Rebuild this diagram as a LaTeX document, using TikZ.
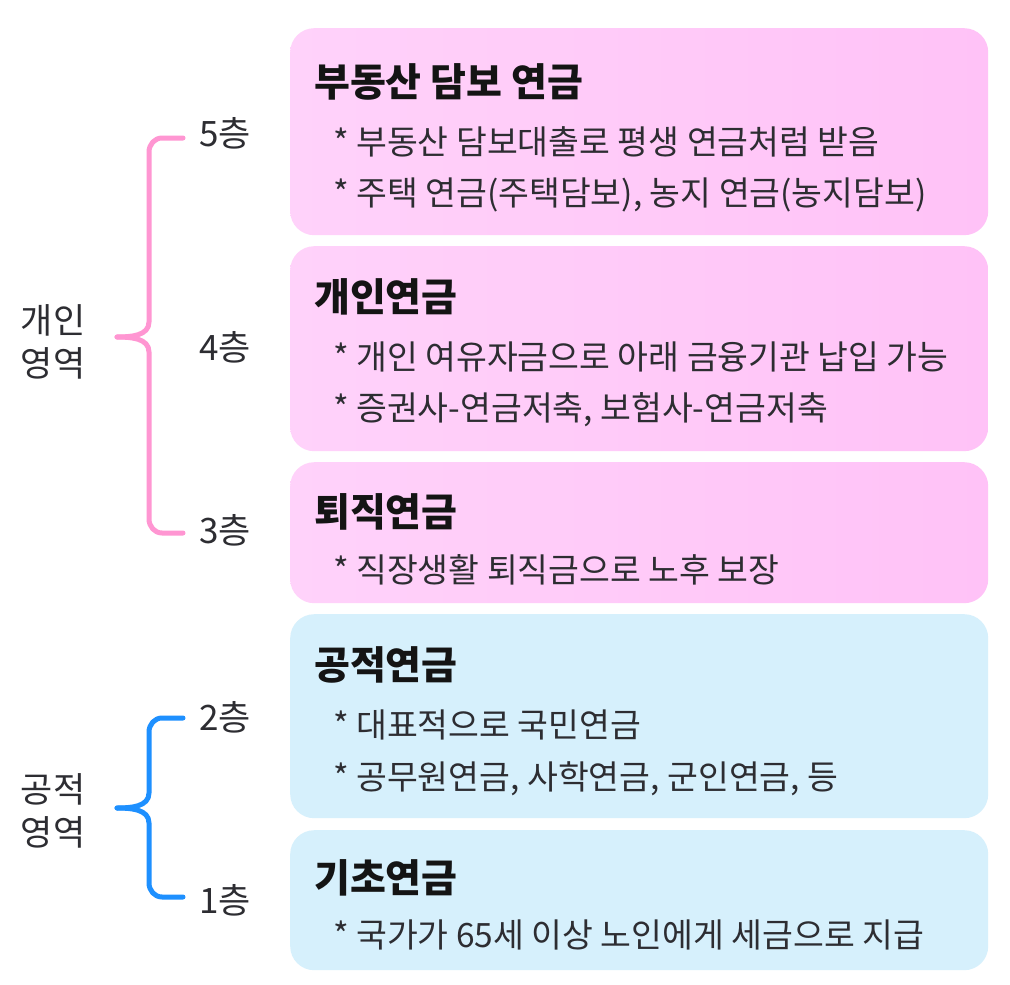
\documentclass[tikz,border=0pt]{standalone}
\usepackage{fontspec}
\setmainfont{Noto Sans CJK KR}
\begin{document}
\begin{tikzpicture}[x=1pt,y=-1pt,
  pinkbox/.style={rounded corners=24pt, left color=pinkA, right color=pinkB, draw=none, anchor=north west, inner sep=0pt},
  bluebox/.style={rounded corners=24pt, fill=blueA, draw=none, anchor=north west, inner sep=0pt},
  ttl/.style={anchor=west, inner sep=0pt, font=\fontsize{39}{44}\selectfont\bfseries, text=titlec},
  itm/.style={anchor=west, inner sep=0pt, font=\fontsize{33.5}{38}\selectfont, text=itemc},
  lyr/.style={anchor=west, inner sep=0pt, font=\fontsize{35}{40}\selectfont, text=itemc},
  grp/.style={anchor=center, inner sep=0pt, align=center, font=\fontsize{35}{43}\selectfont, text=itemc},
  pbr/.style={draw=brPink, line width=5pt, line cap=round, line join=round},
  bbr/.style={draw=brBlue, line width=5pt, line cap=round, line join=round}
]
\definecolor{pinkA}{RGB}{255,210,250}
\definecolor{pinkB}{RGB}{255,194,247}
\definecolor{blueA}{RGB}{214,240,252}
\definecolor{titlec}{RGB}{20,20,20}
\definecolor{itemc}{RGB}{45,45,50}
\definecolor{brPink}{RGB}{255,150,210}
\definecolor{brBlue}{RGB}{30,144,255}
\useasboundingbox[fill=white] (0,0) rectangle (1010,985);

% boxes
\node[pinkbox, minimum width=698pt, minimum height=207pt] (b5) at (290,28) {};
\node[pinkbox, minimum width=698pt, minimum height=205pt] (b4) at (290,246) {};
\node[pinkbox, minimum width=698pt, minimum height=141pt] (b3) at (290,462) {};
\node[bluebox, minimum width=698pt, minimum height=204pt] (b2) at (290,614) {};
\node[bluebox, minimum width=698pt, minimum height=140pt] (b1) at (290,830) {};

% box texts
\node[ttl] (t5) at (314,82) {부동산 담보 연금};
\node[itm] (i5a) at (333,142) {* 부동산 담보대출로 평생 연금처럼 받음};
\node[itm] (i5b) at (333,195) {* 주택 연금(주택담보), 농지 연금(농지담보)};

\node[ttl] (t4) at (314,297) {개인연금};
\node[itm] (i4a) at (333,357) {* 개인 여유자금으로 아래 금융기관 납입 가능};
\node[itm] (i4b) at (333,410) {* 증권사-연금저축, 보험사-연금저축};

\node[ttl] (t3) at (314,512) {퇴직연금};
\node[itm] (i3a) at (333,570) {* 직장생활 퇴직금으로 노후 보장};

\node[ttl] (t2) at (314,665) {공적연금};
\node[itm] (i2a) at (333,725) {* 대표적으로 국민연금};
\node[itm] (i2b) at (333,779) {* 공무원연금, 사학연금, 군인연금, 등};

\node[ttl] (t1) at (314,878) {기초연금};
\node[itm] (i1a) at (333,935) {* 국가가 65세 이상 노인에게 세금으로 지급};

% layer labels
\node[lyr] (l5) at (199,133) {5층};
\node[lyr] (l4) at (199,347) {4층};
\node[lyr] (l3) at (199,530) {3층};
\node[lyr] (l2) at (199,717) {2층};
\node[lyr] (l1) at (199,900) {1층};

% group labels
\node[grp] (g1) at (53,342) {개인\\영역};
\node[grp] (g2) at (53,811) {공적\\영역};

% brackets
\coordinate (p5) at (183,138);
\coordinate (p3) at (183,533);
\coordinate (ptip) at (117,337);
\coordinate (p2) at (183,718);
\coordinate (p1) at (183,897);
\coordinate (btip) at (117,808);

\draw[pbr] (p5) -- (162,138) to[out=180,in=90] (149,152) -- (149,322)
  to[out=-90,in=0] (ptip);
\draw[pbr] (p3) -- (162,533) to[out=180,in=-90] (149,519) -- (149,352)
  to[out=90,in=0] (ptip);
\draw[bbr] (p2) -- (162,718) to[out=180,in=90] (149,732) -- (149,793)
  to[out=-90,in=0] (btip);
\draw[bbr] (p1) -- (162,897) to[out=180,in=-90] (149,883) -- (149,823)
  to[out=90,in=0] (btip);
\end{tikzpicture}
\end{document}
